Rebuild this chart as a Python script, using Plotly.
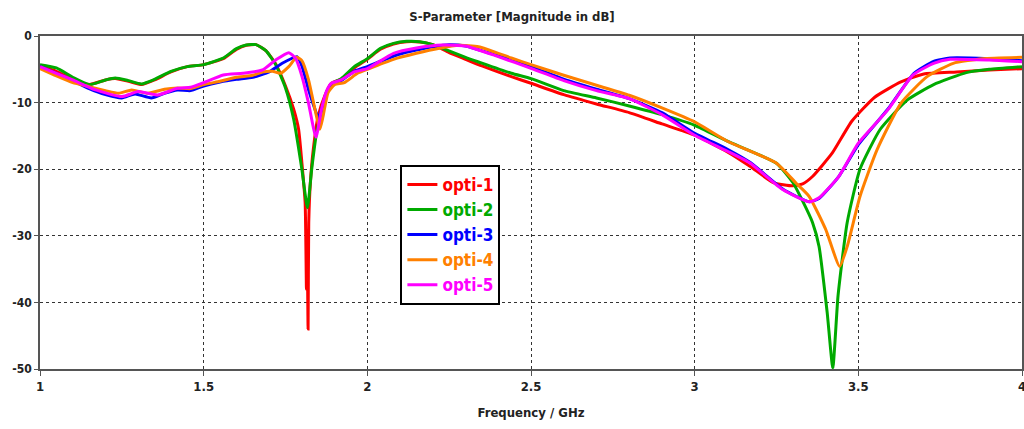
import plotly.graph_objects as go

names = ["opti-1", "opti-2", "opti-3", "opti-4", "opti-5"]
colors = ["#ff0000", "#00aa00", "#0000ff", "#ff8000", "#ff00ff"]

f1 = [1.0, 1.05, 1.1, 1.15, 1.2, 1.23, 1.27, 1.31, 1.35, 1.4, 1.45, 1.5, 1.56, 1.6, 1.63, 1.66, 1.69, 1.72, 1.75, 1.775, 1.79, 1.80, 1.81, 1.814, 1.816, 1.819, 1.821, 1.826, 1.835, 1.85, 1.87, 1.89, 1.92, 1.96, 2.0, 2.04, 2.08, 2.12, 2.16, 2.2, 2.25, 2.3, 2.35, 2.44, 2.5, 2.6, 2.7, 2.8, 2.9, 3.0, 3.1, 3.17, 3.24, 3.3, 3.33, 3.36, 3.42, 3.48, 3.55, 3.63, 3.7, 3.8, 3.9, 4.0]
s1 = [-4.5, -5.3, -6.5, -7.3, -6.6, -6.4, -6.8, -7.3, -6.6, -5.4, -4.6, -4.3, -3.4, -2.0, -1.4, -1.3, -2.2, -4.2, -7.5, -11, -14, -19, -25, -38, -30, -44, -28, -22, -17, -12, -9, -7.1, -6.5, -4.8, -3.5, -2.0, -1.2, -0.85, -0.9, -1.3, -2.5, -3.5, -4.5, -6.1, -7.1, -8.8, -10.2, -11.5, -13.2, -14.9, -17.4, -19.6, -22.0, -22.5, -22.2, -21.1, -17.6, -12.8, -9.2, -6.9, -5.7, -5.4, -5.1, -4.9]

f2 = [1.0, 1.05, 1.1, 1.15, 1.2, 1.23, 1.27, 1.31, 1.35, 1.4, 1.45, 1.5, 1.56, 1.6, 1.63, 1.66, 1.69, 1.72, 1.75, 1.775, 1.80, 1.817, 1.83, 1.845, 1.87, 1.89, 1.92, 1.96, 2.0, 2.04, 2.08, 2.12, 2.16, 2.2, 2.23, 2.3, 2.34, 2.44, 2.5, 2.6, 2.7, 2.8, 2.9, 3.0, 3.1, 3.25, 3.3, 3.33, 3.36, 3.38, 3.405, 3.422, 3.438, 3.466, 3.505, 3.567, 3.65, 3.73, 3.83, 3.9, 4.0]
s2 = [-4.3, -4.8, -6.2, -7.3, -6.6, -6.3, -6.7, -7.2, -6.5, -5.3, -4.6, -4.3, -3.3, -1.9, -1.35, -1.3, -2.2, -4.3, -7.8, -12.5, -20, -25.8, -20, -14.5, -9.5, -7.2, -6.4, -4.6, -3.4, -1.85, -1.1, -0.8, -0.85, -1.3, -1.85, -3.2, -3.9, -5.6, -6.4, -8.2, -9.3, -10.5, -11.8, -13.4, -15.8, -19.1, -22.0, -24.8, -28.0, -31.6, -41.6, -49.8, -39, -28, -20, -14, -9.6, -7.3, -5.5, -5.0, -4.6]

f3 = [1.0, 1.05, 1.1, 1.15, 1.2, 1.25, 1.29, 1.34, 1.38, 1.42, 1.46, 1.5, 1.55, 1.6, 1.65, 1.7, 1.74, 1.785, 1.80, 1.82, 1.84, 1.85, 1.86, 1.875, 1.89, 1.92, 1.96, 2.0, 2.05, 2.1, 2.15, 2.2, 2.25, 2.3, 2.4, 2.5, 2.6, 2.7, 2.8, 2.9, 3.0, 3.1, 3.17, 3.27, 3.35, 3.38, 3.44, 3.5, 3.59, 3.67, 3.73, 3.78, 3.9, 4.0]
s3 = [-4.6, -5.6, -6.7, -7.9, -8.8, -9.3, -8.7, -9.3, -8.6, -8.1, -8.2, -7.5, -6.9, -6.5, -6.2, -5.4, -4.1, -3.1, -4.5, -8, -11, -12.3, -11, -8.5, -7.2, -6.7, -5.3, -4.6, -3.6, -2.7, -2.1, -1.6, -1.3, -1.5, -3.0, -4.6, -6.5, -8.0, -9.4, -11.5, -14.6, -17.0, -19.0, -23.0, -24.9, -24.4, -21.1, -16.3, -11.0, -5.6, -3.8, -3.3, -3.4, -3.7]

f4 = [1.0, 1.05, 1.1, 1.15, 1.2, 1.24, 1.28, 1.33, 1.38, 1.42, 1.46, 1.5, 1.55, 1.6, 1.65, 1.68, 1.71, 1.735, 1.76, 1.784, 1.80, 1.82, 1.84, 1.855, 1.865, 1.88, 1.9, 1.93, 1.97, 2.0, 2.08, 2.15, 2.22, 2.28, 2.34, 2.44, 2.5, 2.6, 2.7, 2.8, 2.9, 3.0, 3.1, 3.25, 3.31, 3.35, 3.40, 3.443, 3.466, 3.505, 3.557, 3.63, 3.71, 3.79, 3.88, 4.0]
s4 = [-4.9, -6.0, -7.0, -7.6, -8.2, -8.6, -8.1, -8.6, -8.0, -7.8, -7.9, -7.3, -6.8, -6.2, -5.9, -5.4, -5.3, -5.6, -4.6, -3.2, -3.7, -6.5, -11, -14, -12, -8.5, -7.3, -7.0, -5.6, -5.0, -3.5, -2.6, -1.85, -1.4, -1.6, -3.3, -4.3, -5.9, -7.4, -8.9, -10.8, -12.9, -15.8, -19.1, -22.1, -24.1, -29.0, -34.6, -31.6, -24.1, -17.1, -10.1, -6.1, -4.1, -3.4, -3.2]

f5 = [1.0, 1.05, 1.1, 1.17, 1.25, 1.3, 1.36, 1.42, 1.46, 1.5, 1.56, 1.62, 1.68, 1.72, 1.76, 1.78, 1.80, 1.82, 1.843, 1.86, 1.875, 1.89, 1.92, 1.96, 2.0, 2.08, 2.15, 2.23, 2.3, 2.4, 2.5, 2.6, 2.7, 2.8, 2.9, 3.0, 3.1, 3.17, 3.27, 3.35, 3.38, 3.44, 3.5, 3.59, 3.667, 3.73, 3.78, 3.9, 4.0]
s5 = [-4.6, -5.6, -6.6, -8.1, -9.1, -8.35, -8.85, -7.85, -7.7, -7.0, -5.85, -5.6, -5.1, -3.6, -2.5, -3.3, -6.0, -10, -15.2, -11, -8.3, -7.1, -6.6, -5.4, -4.9, -2.6, -1.8, -1.35, -1.5, -3.1, -4.85, -6.7, -8.2, -9.4, -11.8, -14.9, -17.3, -19.1, -23.1, -24.9, -24.3, -21.1, -16.1, -11.1, -5.85, -4.1, -3.5, -3.6, -3.85]

xs = [f1, f2, f3, f4, f5]
ys = [s1, s2, s3, s4, s5]

x_ticks = [1, 1.5, 2, 2.5, 3, 3.5, 4]
x_labels = ["1", "1.5", "2", "2.5", "3", "3.5", "4"]
y_ticks = [0, -10, -20, -30, -40, -50]

FONT = "DejaVu Sans Condensed, Liberation Sans Narrow, Arial"
LEG_FONT = "Liberation Sans Narrow, DejaVu Sans Condensed, Arial"

fig = go.Figure()
for x, y, n, c in zip(xs, ys, names, colors):
    fig.add_trace(go.Scatter(
        x=x, y=y, mode="lines",
        name=f"<b><span style='color:{c}'>{n}</span></b>",
        line=dict(color=c, width=3, shape="spline", smoothing=0.5),
    ))

fig.update_layout(
    width=1024, height=429,
    margin=dict(l=40, r=2, t=36, b=60, autoexpand=False),
    paper_bgcolor="white", plot_bgcolor="white",
    font=dict(family=FONT, size=12, color="#222222"),
    title=dict(text="<b>S-Parameter [Magnitude in dB]</b>", x=0.5, xanchor="center",
               y=0.962, yanchor="middle", font=dict(size=13, family=FONT, color="#222222")),
    showlegend=True,
    legend=dict(x=0.367, y=0.613, xanchor="left", yanchor="top",
                bgcolor="white", bordercolor="black", borderwidth=2,
                font=dict(size=17, family=LEG_FONT), tracegroupgap=0),
)
fig.update_xaxes(
    range=[1, 4], tickvals=x_ticks, ticktext=[f"<b>{t}</b>" for t in x_labels],
    showgrid=True, gridcolor="#333333", griddash="dot", gridwidth=1,
    showline=True, linecolor="#555555", linewidth=1.5, mirror=True,
    ticks="outside", ticklen=5, tickcolor="#555555", zeroline=False,
    title=dict(text="<b>Frequency / GHz</b>", font=dict(size=13), standoff=15),
    tickfont=dict(size=13), automargin=False, ticklabeloverflow="allow",
)
fig.update_yaxes(
    range=[-50, 0], tickvals=y_ticks, ticktext=[f"<b>{t}</b>" for t in y_ticks],
    showgrid=True, gridcolor="#333333", griddash="dot", gridwidth=1,
    showline=True, linecolor="#555555", linewidth=1.5, mirror=True,
    ticks="outside", ticklen=4, tickcolor="#555555", zeroline=False,
    tickfont=dict(size=12), automargin=False, ticklabeloverflow="allow",
)

fig.write_html("out.html", config={"displayModeBar": False},
               post_script="document.body.style.margin='0px';")
